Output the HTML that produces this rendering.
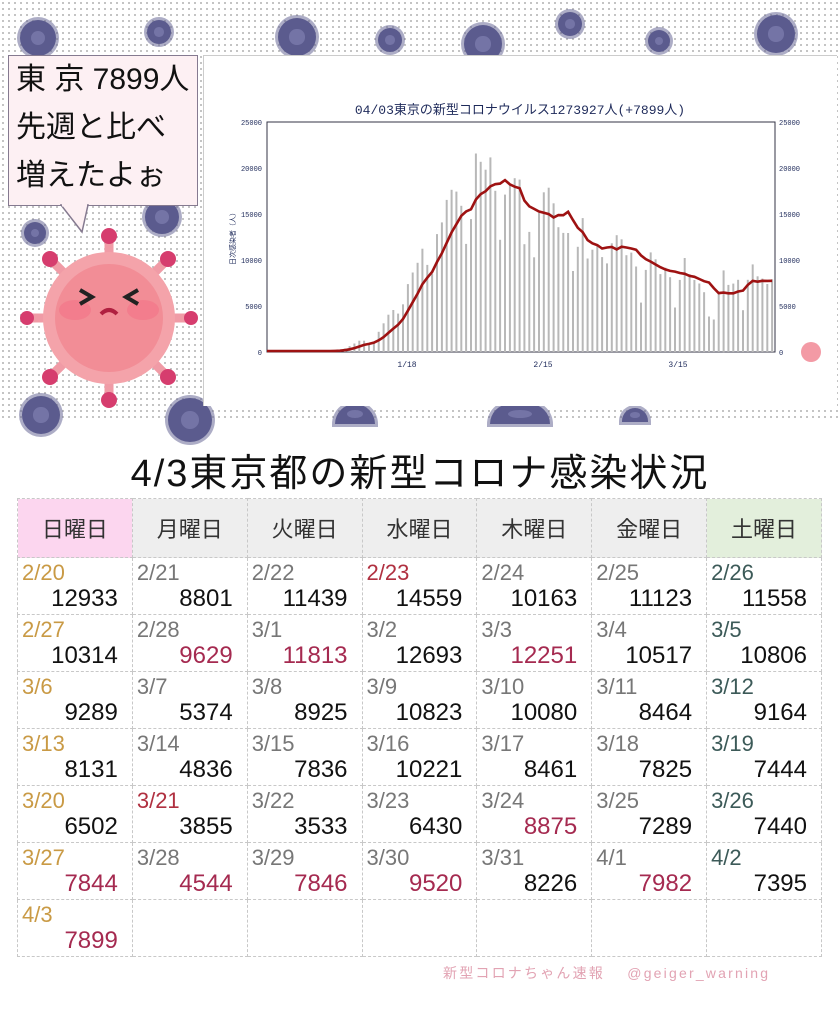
<!DOCTYPE html>
<html><head><meta charset="utf-8"><style>
body{margin:0;width:840px;height:1024px;overflow:hidden;background:#fff;font-family:"Liberation Sans","Noto Sans CJK JP",sans-serif;position:relative}
#top{position:absolute;left:0;top:0;width:840px;height:422px;background-color:#fff;background-image:radial-gradient(circle,#b4b4b4 0.8px,transparent 1.1px);background-size:6px 6px}
.v{position:absolute;border-radius:50%;background:#5b5b8e;box-shadow:0 0 0 3px rgba(91,91,142,.5)}
.v:after{content:"";position:absolute;left:30%;top:30%;width:40%;height:40%;border-radius:50%;background:#7474a6}
#bubble{position:absolute;left:8px;top:55px;width:190px;height:151px;background:#fdf0f3;border:1.5px solid #857a90;font-size:30px;line-height:48px;padding-left:7px;box-sizing:border-box;color:#111;white-space:nowrap}
#chart{position:absolute;left:203px;top:55px;width:633px;height:350px;background:#fff;border-left:1px solid #ccc;border-top:1px solid #ccc}
table{position:absolute;left:17px;top:498px;border-collapse:collapse;width:805px;table-layout:fixed}
td{border:1px dashed #c8c8c8;width:115px;height:56px;padding:0;vertical-align:top;font-size:24px}
th{border:1px dashed #c8c8c8;height:56px;font-weight:normal;font-size:22px;color:#333;background:#eee}
.d{display:block;padding-left:4px;height:26px;line-height:30px;color:#777;font-size:22px}
.n{display:block;text-align:right;padding-right:14px;line-height:30px;color:#111}
.su{color:#c99a45}.ho{color:#b03040}.sa{color:#3c5a58}.r{color:#a52a50}
</style></head><body>
<div id="top"></div>
<div class="v" style="left:20px;top:20px;width:36px;height:36px"></div>
<div class="v" style="left:147px;top:20px;width:24px;height:24px"></div>
<div class="v" style="left:278px;top:18px;width:38px;height:38px"></div>
<div class="v" style="left:378px;top:28px;width:24px;height:24px"></div>
<div class="v" style="left:464px;top:25px;width:38px;height:38px"></div>
<div class="v" style="left:558px;top:12px;width:24px;height:24px"></div>
<div class="v" style="left:648px;top:30px;width:22px;height:22px"></div>
<div class="v" style="left:757px;top:15px;width:38px;height:38px"></div>
<div class="v" style="left:24px;top:222px;width:22px;height:22px"></div>
<div class="v" style="left:145px;top:200px;width:34px;height:34px"></div>
<div class="v" style="left:22px;top:396px;width:38px;height:38px"></div>
<div class="v" style="left:168px;top:398px;width:44px;height:44px"></div>
<div class="v" style="left:335px;top:404px;width:40px;height:20px;border-radius:20px 20px 0 0"></div>
<div class="v" style="left:490px;top:404px;width:60px;height:20px;border-radius:30px 30px 0 0"></div>
<div class="v" style="left:622px;top:408px;width:26px;height:14px;border-radius:13px 13px 0 0"></div>
<svg style="position:absolute;left:20px;top:228px" width="178" height="180" viewBox="0 0 178 180">
<g stroke="#f09ba6" stroke-width="9" stroke-linecap="round">
<line x1="89" y1="90" x2="89" y2="10"/><line x1="89" y1="90" x2="89" y2="170"/><line x1="89" y1="90" x2="9" y2="90"/><line x1="89" y1="90" x2="169" y2="90"/>
<line x1="89" y1="90" x2="32" y2="33"/><line x1="89" y1="90" x2="146" y2="33"/><line x1="89" y1="90" x2="32" y2="147"/><line x1="89" y1="90" x2="146" y2="147"/></g>
<g fill="#d63d6e"><circle cx="89" cy="8" r="8"/><circle cx="89" cy="172" r="8"/><circle cx="7" cy="90" r="7"/><circle cx="171" cy="90" r="7"/><circle cx="30" cy="31" r="8"/><circle cx="148" cy="31" r="8"/><circle cx="30" cy="149" r="8"/><circle cx="148" cy="149" r="8"/></g>
<circle cx="89" cy="90" r="66" fill="#f4a3aa"/><circle cx="89" cy="90" r="54" fill="#f28d96"/>
<ellipse cx="55" cy="82" rx="16" ry="10" fill="#f37387" opacity=".6"/><ellipse cx="123" cy="82" rx="16" ry="10" fill="#f37387" opacity=".6"/>
<path d="M60 62l12 7-12 7M118 62l-12 7 12 7" stroke="#222" stroke-width="4" fill="none"/>
<path d="M81 86q8-8 16 0" stroke="#b02040" stroke-width="4" fill="none"/></svg>
<div id="bubble">東 京 7899人<br>先週と比べ<br>増えたよぉ</div>
<svg style="position:absolute;left:60px;top:204px" width="40" height="30"><polygon points="1,1 28,1 22,28" fill="#fdf0f3" stroke="#857a90" stroke-width="1.5"/><line x1="2" y1="1" x2="27" y2="1" stroke="#fdf0f3" stroke-width="3"/></svg>
<div id="chart"></div>
<svg id="s" style="position:absolute;left:0;top:0" width="840" height="422"></svg>
<div style="position:absolute;left:0;top:442px;width:840px;text-align:center;font-size:38px;letter-spacing:2px;color:#111">4/3東京都の新型コロナ感染状況</div>
<table>
<tr><th style="background:#fcd6ef">日曜日</th><th>月曜日</th><th>火曜日</th><th>水曜日</th><th>木曜日</th><th>金曜日</th><th style="background:#e3efdc">土曜日</th></tr>
<tr><td><span class="d su">2/20</span><span class="n">12933</span></td><td><span class="d">2/21</span><span class="n">8801</span></td><td><span class="d">2/22</span><span class="n">11439</span></td><td><span class="d ho">2/23</span><span class="n">14559</span></td><td><span class="d">2/24</span><span class="n">10163</span></td><td><span class="d">2/25</span><span class="n">11123</span></td><td><span class="d sa">2/26</span><span class="n">11558</span></td></tr>
<tr><td><span class="d su">2/27</span><span class="n">10314</span></td><td><span class="d">2/28</span><span class="n r">9629</span></td><td><span class="d">3/1</span><span class="n r">11813</span></td><td><span class="d">3/2</span><span class="n">12693</span></td><td><span class="d">3/3</span><span class="n r">12251</span></td><td><span class="d">3/4</span><span class="n">10517</span></td><td><span class="d sa">3/5</span><span class="n">10806</span></td></tr>
<tr><td><span class="d su">3/6</span><span class="n">9289</span></td><td><span class="d">3/7</span><span class="n">5374</span></td><td><span class="d">3/8</span><span class="n">8925</span></td><td><span class="d">3/9</span><span class="n">10823</span></td><td><span class="d">3/10</span><span class="n">10080</span></td><td><span class="d">3/11</span><span class="n">8464</span></td><td><span class="d sa">3/12</span><span class="n">9164</span></td></tr>
<tr><td><span class="d su">3/13</span><span class="n">8131</span></td><td><span class="d">3/14</span><span class="n">4836</span></td><td><span class="d">3/15</span><span class="n">7836</span></td><td><span class="d">3/16</span><span class="n">10221</span></td><td><span class="d">3/17</span><span class="n">8461</span></td><td><span class="d">3/18</span><span class="n">7825</span></td><td><span class="d sa">3/19</span><span class="n">7444</span></td></tr>
<tr><td><span class="d su">3/20</span><span class="n">6502</span></td><td><span class="d ho">3/21</span><span class="n">3855</span></td><td><span class="d">3/22</span><span class="n">3533</span></td><td><span class="d">3/23</span><span class="n">6430</span></td><td><span class="d">3/24</span><span class="n r">8875</span></td><td><span class="d">3/25</span><span class="n">7289</span></td><td><span class="d sa">3/26</span><span class="n">7440</span></td></tr>
<tr><td><span class="d su">3/27</span><span class="n r">7844</span></td><td><span class="d">3/28</span><span class="n r">4544</span></td><td><span class="d">3/29</span><span class="n r">7846</span></td><td><span class="d">3/30</span><span class="n r">9520</span></td><td><span class="d">3/31</span><span class="n">8226</span></td><td><span class="d">4/1</span><span class="n r">7982</span></td><td><span class="d sa">4/2</span><span class="n">7395</span></td></tr>
<tr><td><span class="d su">4/3</span><span class="n r">7899</span></td><td></td><td></td><td></td><td></td><td></td><td></td></tr>
</table>
<div style="position:absolute;left:443px;top:963px;font-size:14px;color:#e2a3b3;letter-spacing:2.2px">新型コロナちゃん速報　 @geiger_warning</div>
<script>
var d=[];for(var i=0;i<14;i++)d.push(0);
d=d.concat([84,151,390,641,922,1224,1223,871,1052,2198,3124,4051,4561,4172,5185,7377,8638,9699,11227,9468,8503,12813,14086,16538,17631,17433,15895,11751,14445,21576,20679,19813,21151,17526,12199,17113,18287,18891,18738,11717,13057,10297,15117,17360,17864,16161,13562,12950,8801,
12933,8801,11439,14559,10163,11123,11558,10314,9629,11813,12693,12251,10517,10806,9289,5374,8925,10823,10080,8464,9164,8131,4836,7836,10221,8461,7825,7444,6502,3855,3533,6430,8875,7289,7440,7844,4544,7846,9520,8226,7982,7395,7899]);
d.splice(62,1);
var X0=267,W=4.857,Y0=352,H=230/25000,s='';
s+='<text x="520" y="114" text-anchor="middle" font-size="13" fill="#1e2a5a" font-family="Liberation Mono,Noto Sans CJK JP,monospace">04/03東京の新型コロナウイルス1273927人(+7899人)</text>';
s+='<rect x="267" y="122" width="508" height="230" fill="none" stroke="#334" stroke-width="1"/>';
for(var k=0;k<=5;k++){var y=Y0-k*5000*H;s+='<text x="262" y="'+(y+3)+'" text-anchor="end" font-size="7" fill="#1e2a5a" font-family="Liberation Mono,monospace">'+k*5000+'</text><text x="779" y="'+(y+3)+'" font-size="7" fill="#1e2a5a" font-family="Liberation Mono,monospace">'+k*5000+'</text>';}
s+='<text transform="translate(235,237) rotate(-90)" text-anchor="middle" font-size="7" fill="#1e2a5a">日次感染者（人）</text>';
[['1/18',407],['2/15',543],['3/15',678]].forEach(function(a){s+='<text x="'+a[1]+'" y="367" text-anchor="middle" font-size="8" fill="#1e2a5a" font-family="Liberation Mono,monospace">'+a[0]+'</text>';});
for(var i=0;i<d.length;i++){var x=X0+i*W,h=d[i]*H;if(h>0)s+='<rect x="'+(x-1).toFixed(1)+'" y="'+(Y0-h).toFixed(1)+'" width="2" height="'+h.toFixed(1)+'" fill="#b8b8b8"/>';}
var p='';for(var i=0;i<d.length;i++){var sm=0;for(var j=i-6;j<=i;j++)sm+=(j>=0?d[j]:0);p+=(i?'L':'M')+(X0+i*W).toFixed(1)+' '+(Y0-1-sm/7*H).toFixed(1);}
s+='<path d="'+p+'" fill="none" stroke="#9e1212" stroke-width="2.6"/>';
s+='<circle cx="811" cy="352" r="10" fill="#f39aa5"/>';
document.getElementById('s').innerHTML=s;
</script>
</body></html>
